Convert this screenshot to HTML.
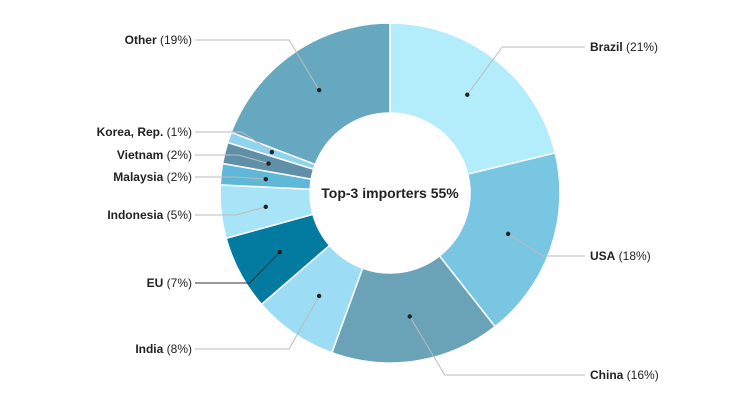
<!DOCTYPE html>
<html><head><meta charset="utf-8"><style>
html,body{margin:0;padding:0;background:#fff;}
svg{display:block;font-family:"Liberation Sans",Roboto,sans-serif;}
</style></head><body>
<svg id="chart" width="745" height="400" viewBox="0 0 745 400"></svg>
<script>
const categories = ["Brazil","USA","China","India","EU","Indonesia","Malaysia","Vietnam","Korea, Rep.","Other"];
const shares = [21,18,16,8,7,5,2,2,1,19];
const colors = ["#b3ecfb","#79c6e3","#6aa2b8","#9ddcf5","#037aa0","#a8e4f7","#5fb8d8","#5f90a8","#8fd3ef","#67a8c1"];
const labelY = [47,256,375,349,283,215,177,155,132,40];
const centerText = "Top-3 importers 55%";

const svg = document.getElementById('chart');
const NS = 'http://www.w3.org/2000/svg';
const cx = 390, cy = 193, R = 170, r = 80;
const total = shares.reduce((a,b)=>a+b,0);
function pt(rad, ang){ return [cx + rad*Math.sin(ang), cy - rad*Math.cos(ang)]; }
function mk(tag, attrs){ const e=document.createElementNS(NS,tag); for(const k in attrs) e.setAttribute(k,attrs[k]); return e; }

let acc = 0;
const gS = mk('g',{});   svg.appendChild(gS);
const gL = mk('g',{});   svg.appendChild(gL);
shares.forEach((v,i)=>{
  const a0 = acc/total*2*Math.PI, a1 = (acc+v)/total*2*Math.PI; acc += v;
  const large = (a1-a0) > Math.PI ? 1 : 0;
  const [x0,y0]=pt(R,a0),[x1,y1]=pt(R,a1),[x2,y2]=pt(r,a1),[x3,y3]=pt(r,a0);
  const p = mk('path',{d:`M${x0},${y0} A${R},${R} 0 ${large} 1 ${x1},${y1} L${x2},${y2} A${r},${r} 0 ${large} 0 ${x3},${y3} Z`, fill:colors[i], stroke:'#fff','stroke-width':1.5});
  
  
  gS.appendChild(p);
  const am = (a0+a1)/2;
  const [dx,dy] = pt((R+r)/2, am);
  const right = Math.sin(am) >= 0;
  const ly = labelY[i];
  const ex = right ? dx+35 : dx-30;
  const lx = right ? 585 : 195;
  const line = mk('polyline',{points:`${dx},${dy} ${ex},${ly} ${lx},${ly}`, fill:'none', stroke:(i===4?'#333':'#bbb'),'stroke-width':1});
  
  
  gL.appendChild(line);
  const dot = mk('circle',{cx:dx,cy:dy,r:2.2,fill:'#222'});
  
  
  gL.appendChild(dot);
  const t = mk('text',{x: right? lx+5 : lx-3, y: ly+4, 'font-size':12, fill:'#222','text-anchor': right?'start':'end'});
  
  
  const b = mk('tspan',{'font-weight':'bold'}); b.textContent = categories[i];
  const n = mk('tspan',{}); n.textContent = ' ('+v+'%)';
  t.appendChild(b); t.appendChild(n);
  gL.appendChild(t);
});
const ct = mk('text',{x:cx,y:cy+5,'text-anchor':'middle','font-size':14,'font-weight':'bold',fill:'#222'});


ct.textContent = centerText;
svg.appendChild(ct);
</script>
</body></html>
